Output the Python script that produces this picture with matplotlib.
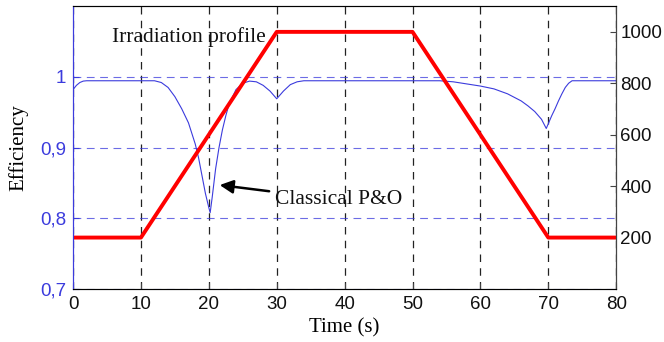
import numpy as np
import matplotlib
matplotlib.use('Agg')
import matplotlib.pyplot as plt

# irradiation profile (W/m2)
t_irr = [0, 10, 30, 50, 70, 80]
irr = [200, 200, 1000, 1000, 200, 200]

# efficiency of classical P&O
t_eff = [0, 0.5, 1, 1.5, 2, 12, 13, 14, 15, 16, 17, 18, 18.5, 19, 19.5, 20,
         20.2, 20.5, 21, 21.5, 22, 22.5, 23, 24, 25, 26, 27, 28, 29, 30, 31,
         32, 33, 34, 54, 56, 58, 60, 62, 64, 66, 67, 68, 69, 69.7, 70.5, 71,
         71.5, 72, 72.5, 73, 73.5, 80]
eff = [0.982, 0.988, 0.992, 0.994, 0.9945, 0.9945, 0.992, 0.985, 0.972,
       0.955, 0.935, 0.905, 0.885, 0.86, 0.835, 0.815, 0.808, 0.83, 0.87,
       0.90, 0.925, 0.945, 0.962, 0.982, 0.991, 0.994, 0.993, 0.988, 0.980,
       0.969, 0.980, 0.989, 0.993, 0.9945, 0.9945, 0.993, 0.990, 0.987,
       0.983, 0.976, 0.966, 0.959, 0.951, 0.940, 0.927, 0.945, 0.955, 0.966,
       0.976, 0.985, 0.991, 0.9945, 0.9945]

x_ticks = [0, 10, 20, 30, 40, 50, 60, 70, 80]
eff_ticks = [0.7, 0.8, 0.9, 1.0]
eff_labels = ['0,7', '0,8', '0,9', '1']
irr_ticks = [200, 400, 600, 800, 1000]

blue = '#3b3bdd'
serif = 'Liberation Serif'
sans = 'Liberation Sans'

fig = plt.figure(figsize=(6.64, 3.42), dpi=100)
ax = fig.add_axes([0.110, 0.155, 0.818, 0.827])
ax2 = ax.twinx()

ax.plot(t_eff, eff, color=blue, lw=0.8)
ax.set_xlim(0, 80)
ax.set_ylim(0.7, 1.1)
ax.set_xticks(x_ticks)
ax.set_yticks(eff_ticks)
ax.set_yticklabels(eff_labels)
for lab in ax.get_xticklabels() + ax.get_yticklabels():
    lab.set_fontfamily(sans)
    lab.set_fontsize(13.5)
ax.tick_params(direction='in', length=4, colors='#444444', pad=5)
ax.tick_params(axis='y', colors=blue)
for lab in ax.get_xticklabels():
    lab.set_color('#111111')
ax.xaxis.grid(True, color='#222222', ls=(0, (6, 5)), lw=0.9)
ax.yaxis.grid(True, color=blue, ls=(0, (7, 5)), lw=0.8, alpha=0.75)
ax.set_xlabel('Time (s)', fontfamily=serif, fontsize=15, labelpad=4)
ax.set_ylabel('Efficiency', fontfamily=serif, fontsize=15, labelpad=8)
ax.spines['left'].set_color(blue)
for s in ['top', 'bottom']:
    ax.spines[s].set_color('#444444')

ax2.plot(t_irr, irr, color='red', lw=2.8)
ax2.set_ylim(0, 1100)
ax2.set_yticks(irr_ticks)
for lab in ax2.get_yticklabels():
    lab.set_fontfamily(sans)
    lab.set_fontsize(13.5)
ax2.tick_params(direction='in', length=4, colors='#444444', pad=3)
for lab in ax2.get_yticklabels():
    lab.set_color('#111111')
ax2.spines['right'].set_color('#444444')
ax2.spines['left'].set_color(blue)

ax.text(28.4, 1.056, 'Irradiation profile', fontfamily=serif, fontsize=15.5,
        ha='right', va='center', color='#111111')
ax.annotate('Classical P&O', xy=(21.6, 0.847), xytext=(29.7, 0.826),
            fontfamily=serif, fontsize=15.5, va='center', ha='left',
            color='#111111',
            arrowprops=dict(arrowstyle='-|>', color='black', lw=1.8,
                            mutation_scale=20, shrinkA=2, shrinkB=0))

fig.savefig('out.png', dpi=100)
